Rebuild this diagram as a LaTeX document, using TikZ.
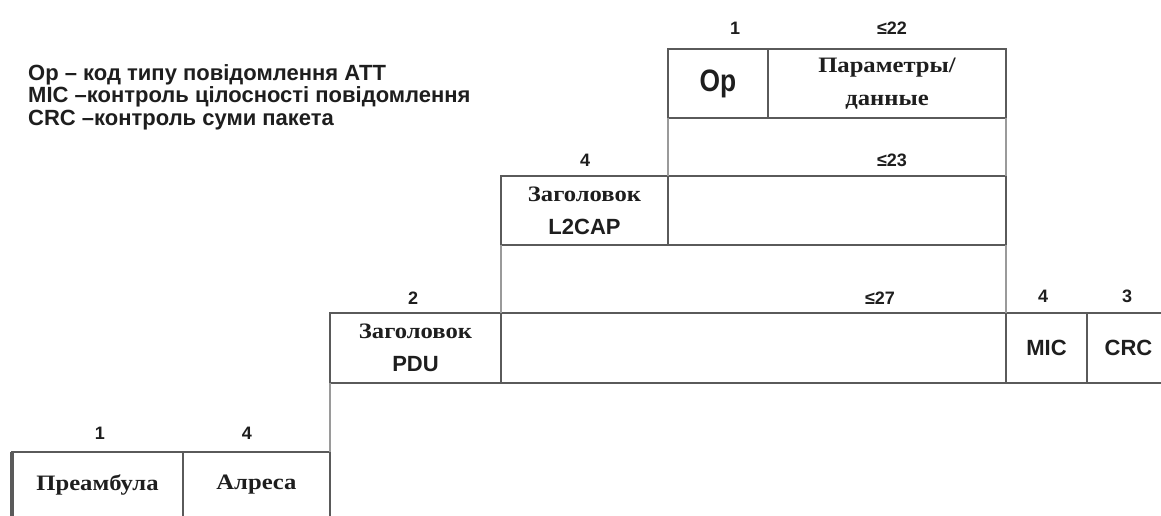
\documentclass[tikz,border=0pt]{standalone}
\usepackage{fontspec}
\setmainfont{Liberation Serif}[FakeStretch=1.12]
\setsansfont{Liberation Sans}
\newfontfamily\condsans{Liberation Sans}[FakeStretch=0.85]
\definecolor{boxgray}{HTML}{5A5A5A}
\definecolor{guidegray}{HTML}{9A9A9A}
\definecolor{txt}{HTML}{1E1E1E}
\begin{document}
\begin{tikzpicture}[x=1pt,y=-1pt,
  box/.style={draw=boxgray, line width=2.4pt, anchor=north west, inner sep=0pt, outer sep=0pt, align=center, text=txt},
  guide/.style={draw=guidegray, line width=1.2pt},
  num/.style={font=\sffamily\bfseries\fontsize{18}{18}\selectfont, text=txt, inner sep=0pt},
  ser/.style={font=\rmfamily\bfseries\fontsize{22}{33}\selectfont},
  sanslbl/.style={font=\sffamily\bfseries\fontsize{22}{22}\selectfont},
  legend/.style={font=\sffamily\bfseries\fontsize{22}{22.5}\selectfont, text=txt, align=left, inner sep=0pt, anchor=north west}
]
\useasboundingbox (0,0) rectangle (1161,515);
\fill[white] (0,0) rectangle (1161,515);

% legend
\node[legend] (leg) at (28,64) {Op – код типу повідомлення АТТ\\MIC –контроль цілосності повідомлення\\CRC –контроль суми пакета};

% ATT row
\node[box, minimum width=100pt, minimum height=69pt, font=\condsans\bfseries\fontsize{31}{31}\selectfont] (op) at (668,49) {Op};
\node[box, ser, minimum width=238pt, minimum height=69pt] (par) at (768,49) {Параметры/\\данные};
\node[num] (n1) at (735,28) {1};
\node[num] (n22) at (892,28) {≤22};

% L2CAP row
\node[box, ser, minimum width=167pt, minimum height=69pt] (l2h) at (501,176) {Заголовок\\{\sffamily L2CAP}};
\node[box, minimum width=338pt, minimum height=69pt] (l2d) at (668,176) {};
\node[num] (n4a) at (585,160) {4};
\node[num] (n23) at (892,160) {≤23};

% PDU row
\node[box, ser, minimum width=171pt, minimum height=70pt] (pduh) at (330,313) {Заголовок\\{\sffamily PDU}};
\node[box, minimum width=505pt, minimum height=70pt] (pdud) at (501,313) {};
\node[box, sanslbl, minimum width=81pt, minimum height=70pt] (mic) at (1006,313) {MIC};
\node[box, sanslbl, minimum width=83pt, minimum height=70pt] (crc) at (1087,313) {CRC};
\node[num] (n2) at (413,298) {2};
\node[num] (n27) at (880,298) {≤27};
\node[num] (n4b) at (1043,296) {4};
\node[num] (n3) at (1127,296) {3};

% Link layer row
\node[box, ser, minimum width=171pt, minimum height=66pt] (pre) at (12,452) {\raisebox{4pt}{Преамбула}};
\node[box, ser, minimum width=147pt, minimum height=66pt] (adr) at (183,452) {\raisebox{4pt}{Алреса}};
\node[num] (n1b) at (100,433) {1};
\node[num] (n4c) at (247,433) {4};
\draw[boxgray, line width=4pt] (pre.north west) -- (pre.south west);

% guide lines
\draw[guide] (op.south west) -- (l2d.north west);
\draw[guide] (par.south east) -- (l2d.north east);
\draw[guide] (l2h.south west) -- (pdud.north west);
\draw[guide] (l2d.south east) -- (pdud.north east);
\draw[guide] (pduh.south west) -- (adr.north east);
\end{tikzpicture}
\end{document}
